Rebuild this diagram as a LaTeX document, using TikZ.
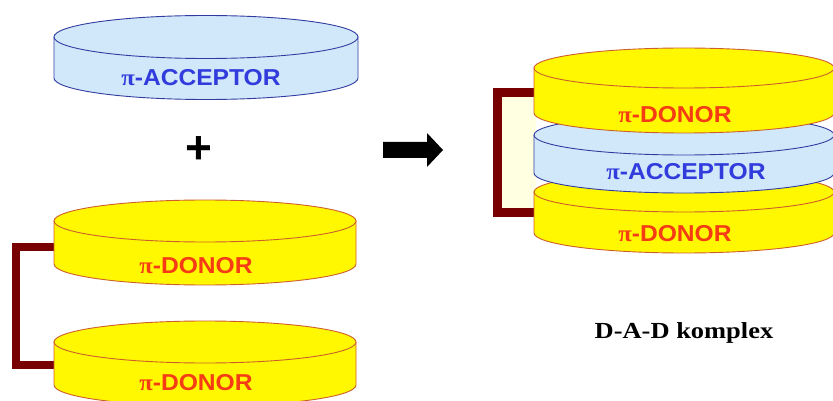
\documentclass[tikz,border=0pt]{standalone}
\usepackage{fontspec}
\setmainfont{Liberation Sans}
\newfontfamily\timesf{Liberation Serif}
\definecolor{donfill}{RGB}{255,248,0}
\definecolor{donline}{RGB}{205,95,45}
\definecolor{donText}{RGB}{245,60,20}
\definecolor{accfill}{RGB}{208,232,250}
\definecolor{accline}{RGB}{50,60,160}
\definecolor{accText}{RGB}{50,60,220}
\definecolor{brk}{RGB}{120,0,0}
\definecolor{brkfill}{RGB}{255,255,226}
\newcommand\mydisk[6]{%
  \path[#6] (#1-#4,#2) -- (#1-#4,#3) arc[start angle=180,end angle=0,x radius=#4,y radius=#5] -- (#1+#4,#2) -- cycle;
  \path[#6] (#1,#2) ellipse[x radius=#4,y radius=#5];
}
\newcommand\pic{{\timesf\bfseries π}}
\begin{document}
\begin{tikzpicture}[x=1pt,y=1pt,yscale=-1,
  donor/.style={fill=donfill,draw=donline,line width=0.9pt},
  acceptor/.style={fill=accfill,draw=accline,line width=0.9pt},
  dtext/.style={text=donText,font=\fontsize{23}{25}\selectfont\bfseries,inner sep=0pt},
  atext/.style={text=accText,font=\fontsize{23}{25}\selectfont\bfseries,inner sep=0pt},
  bracket/.style={draw=brk,line width=8pt,line join=miter}]
\useasboundingbox[fill=white] (0,0) rectangle (833,401);
\clip (0,0) rectangle (833,401);
% left brackets
\coordinate (lb1) at (55,247);
\coordinate (lb2) at (55,365);
\draw[bracket] (lb1) -- (16,247) -- (16,365) -- (lb2);
% right bracket
\coordinate (rb1) at (536,93);
\coordinate (rb2) at (536,212);
\fill[brkfill] (497,93) rectangle (536,212);
\draw[bracket,line width=9pt] (rb1) -- (497.5,93) -- (497.5,212) -- (rb2);
% left disks
\mydisk{206}{37}{78}{152}{21.5}{acceptor}
\mydisk{205}{221}{264}{151}{21}{donor}
\mydisk{205}{342}{385}{151}{21}{donor}
\node[atext] (acc1) at (201,78) {\scalebox{1.07}[1]{\pic-ACCEPTOR}};
\node[dtext] (don1) at (196,265.5) {\scalebox{1.07}[1]{\pic-DONOR}};
\node[dtext] (don2) at (196,383) {\scalebox{1.07}[1]{\pic-DONOR}};
% plus
\node[font=\fontsize{46}{48}\selectfont\bfseries,inner sep=0pt] (plus) at (199,150) {+};
% arrow
\fill[black] (383,142) -- (427,142) -- (427,133) -- (443,150) -- (427,167) -- (427,158) -- (383,158) -- cycle;
% right stack
\mydisk{684}{192}{233}{150}{20}{donor}
\mydisk{684}{135}{173}{150}{20}{acceptor}
\mydisk{684}{68}{113}{150}{20}{donor}
\node[dtext] (donT) at (675,115) {\scalebox{1.07}[1]{\pic-DONOR}};
\node[atext] (accR) at (686,172) {\scalebox{1.07}[1]{\pic-ACCEPTOR}};
\node[dtext] (donB) at (675,234) {\scalebox{1.07}[1]{\pic-DONOR}};
% caption
\node[font=\timesf\fontsize{23}{25}\selectfont\bfseries,inner sep=0pt,anchor=base] (cap) at (684,338) {\scalebox{1.15}[1]{D-A-D komplex}};
\end{tikzpicture}
\end{document}
